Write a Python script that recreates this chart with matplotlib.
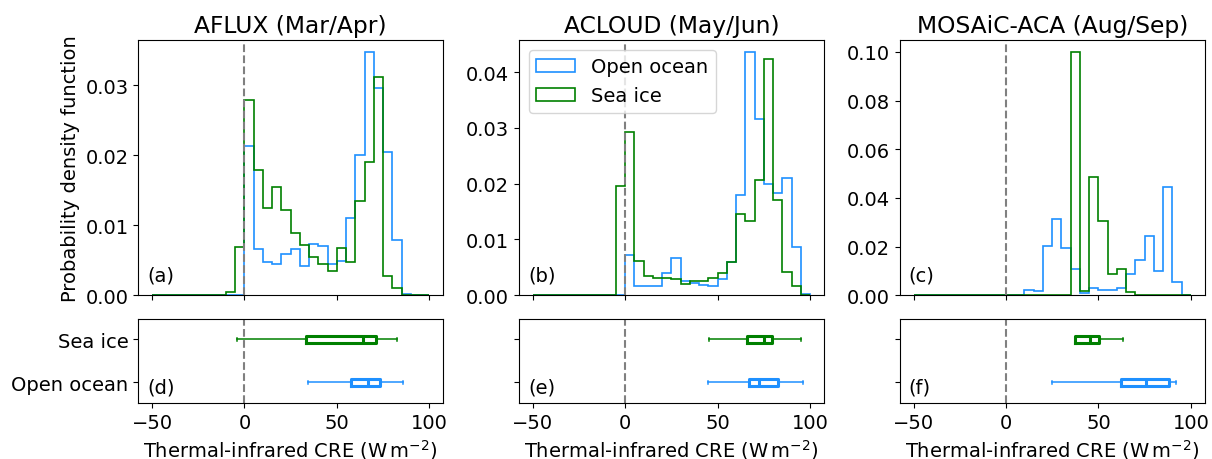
import numpy as np
import matplotlib
matplotlib.use("Agg")
import matplotlib.pyplot as plt

# histogram bins (W m-2)
edges = np.arange(-50, 101, 5)

campaigns = ["AFLUX (Mar/Apr)", "ACLOUD (May/Jun)", "MOSAiC-ACA (Aug/Sep)"]

# PDF values per 5 W m-2 bin, from -50 to 100
ocean_aflux = [0]*10 + [0.0213, 0.0066, 0.0047, 0.0044, 0.0059, 0.0066, 0.0041, 0.0073,
                        0.0070, 0.0044, 0.0049, 0.0110, 0.0200, 0.0347, 0.0296, 0.0204,
                        0.0079, 0.0002, 0, 0]
ice_aflux = [0]*8 + [0.0005, 0.0069, 0.0278, 0.0178, 0.0124, 0.0154, 0.0122, 0.0089,
                     0.0071, 0.0054, 0.0045, 0.0035, 0.0067, 0.0048, 0.0135, 0.0190,
                     0.0311, 0.0028, 0.0010, 0, 0, 0]
ocean_acloud = [0]*10 + [0.0072, 0.0016, 0.0016, 0.0017, 0.0040, 0.0067, 0.0025, 0.0022,
                         0.0018, 0.0016, 0.0029, 0.0059, 0.0180, 0.0436, 0.0316, 0.0199,
                         0.0183, 0.0211, 0.0087, 0.0002]
ice_acloud = [0]*9 + [0.0195, 0.0292, 0.0061, 0.0035, 0.0031, 0.0030, 0.0029, 0.0020,
                      0.0025, 0.0026, 0.0031, 0.0039, 0.0059, 0.0145, 0.0133, 0.0206,
                      0.0423, 0.0171, 0.0041, 0.0016, 0]
ocean_mosaic = [0]*12 + [0.0020, 0.0016, 0.0202, 0.0315, 0.0194, 0.0109, 0.0011, 0.0030,
                         0.0020, 0.0023, 0.0029, 0.0087, 0.0143, 0.0242, 0.0100, 0.0444,
                         0.0053, 0]
ice_mosaic = [0]*17 + [0.0999, 0.0016, 0.0486, 0.0304, 0.0089, 0.0107, 0.0014] + [0]*6

ocean_pdf = [ocean_aflux, ocean_acloud, ocean_mosaic]
ice_pdf = [ice_aflux, ice_acloud, ice_mosaic]

# box statistics: whislo, q1, med, q3, whishi
ocean_box = [(34.2, 57.7, 67.0, 73.3, 85.7),
             (44.6, 67.2, 72.6, 82.8, 96.1),
             (24.8, 62.4, 75.9, 88.0, 92.1)]
ice_box = [(-4.3, 33.3, 64.2, 71.3, 82.3),
           (45.2, 65.6, 74.9, 79.6, 95.0),
           (37.6, 37.6, 45.7, 50.5, 63.5)]

c_ocean = "dodgerblue"
c_ice = "green"

plt.rcParams["font.size"] = 14

fig = plt.figure(figsize=(12.12, 4.6), dpi=100)
gs = fig.add_gridspec(2, 3, height_ratios=[3.04, 1], left=0.114, right=0.994,
                      bottom=0.122, top=0.911, wspace=0.248, hspace=0.14)

letters = "abcdef"
centres = edges[:-1] + 2.5
for i in range(3):
    ax = fig.add_subplot(gs[0, i])
    ax.hist(centres, bins=edges, weights=ocean_pdf[i], histtype="step",
            color=c_ocean, lw=1.2, label="Open ocean")
    ax.hist(centres, bins=edges, weights=ice_pdf[i], histtype="step",
            color=c_ice, lw=1.2, label="Sea ice")
    ax.axvline(0, color="gray", ls="--", lw=1.5)
    ax.set_xlim(-57.5, 107.5)
    ax.set_xticks([-50, 0, 50, 100])
    ax.set_xticklabels([])
    ax.set_title(campaigns[i])
    ax.text(0.03, 0.04, f"({letters[i]})", transform=ax.transAxes, va="bottom")
    if i == 0:
        ax.set_ylabel("Probability density function")
    if i == 1:
        ax.legend(loc="upper left")

    bx = fig.add_subplot(gs[1, i])
    stats = []
    for vals, lab in [(ocean_box[i], "Open ocean"), (ice_box[i], "Sea ice")]:
        lo, q1, med, q3, hi = vals
        stats.append(dict(whislo=lo, q1=q1, med=med, q3=q3, whishi=hi, label=lab))
    for k, col in enumerate([c_ocean, c_ice]):
        bx.bxp([stats[k]], positions=[k + 1], vert=False, widths=0.17,
               showfliers=False, capwidths=0.08,
               boxprops=dict(color=col, lw=2.2),
               medianprops=dict(color=col, lw=2.2),
               whiskerprops=dict(color=col, lw=1.1),
               capprops=dict(color=col, lw=1.1))
    bx.axvline(0, color="gray", ls="--", lw=1.5)
    bx.set_xlim(-57.5, 107.5)
    bx.set_ylim(0.52, 2.48)
    bx.set_xticks([-50, 0, 50, 100])
    bx.set_xticklabels(["\u221250", "0", "50", "100"])
    bx.set_yticks([1, 2])
    if i == 0:
        bx.set_yticklabels(["Open ocean", "Sea ice"])
    else:
        bx.set_yticklabels([])
    bx.set_xlabel(r"Thermal-infrared CRE (W$\,$m$^{-2}$)")
    bx.text(0.03, 0.08, f"({letters[i + 3]})", transform=bx.transAxes, va="bottom")

fig.savefig("out.png", dpi=100)
